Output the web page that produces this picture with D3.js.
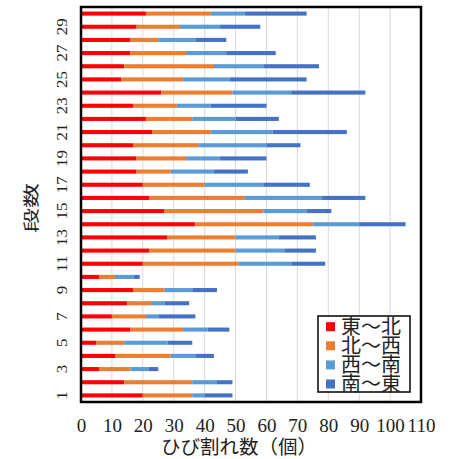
<!DOCTYPE html>
<html><head><meta charset="utf-8">
<script src="https://cdn.jsdelivr.net/npm/d3@7"></script>
<style>
html,body{margin:0;padding:0;background:#fff;}
svg{display:block;}
</style>
</head><body>
<svg id="chart" width="454" height="459"></svg>
<script>
// 段数 1..30
const categories = d3.range(1, 31).map(String);
const seriesNames = ["東～北", "北～西", "西～南", "南～東"];
const colors = ["#FF0000", "#ED7D31", "#5B9BD5", "#4472C4"];
const eastNorth  = [20,14,6,11,5,16,10,15,17,6,20,22,28,37,27,22,20,18,18,17,23,21,17,26,13,14,16,16,18,21];
const northWest  = [16,22,10,18,9,17,11,8,10,5,31,28,22,38,32,31,20,11,16,21,19,15,14,23,20,29,18,9,14,21];
const westSouth  = [4,8,6,8,14,8,4,4,9,6,17,16,14,15,14,25,19,14,11,22,20,14,11,19,15,16,13,12,13,11];
const southEast  = [9,5,3,6,8,7,12,8,8,2,11,10,12,15,8,14,15,11,15,11,24,14,18,24,25,18,16,10,13,20];
const xTicks = [0,10,20,30,40,50,60,70,80,90,100,110];
const yTickLabels = categories.filter((d,i) => i % 2 === 0);
const xTitle = "ひび割れ数（個）";
const yTitle = "段数";

const table = categories.map((c, i) => ({
  cat: c,
  [seriesNames[0]]: eastNorth[i],
  [seriesNames[1]]: northWest[i],
  [seriesNames[2]]: westSouth[i],
  [seriesNames[3]]: southEast[i]
}));

const svg = d3.select("#chart");
const L = 81, R = 421, T = 7, B = 402;
const x = d3.scaleLinear().domain([0, 110]).range([L, R]);
const y = d3.scaleBand().domain(categories.slice().reverse()).range([T, B]).paddingInner(0.69).paddingOuter(0.345);

const numFont = "'Liberation Serif','DejaVu Serif',serif";
const cjkFont = "'Noto Sans CJK JP','Noto Sans CJK SC',sans-serif";

// gridlines
svg.append("g").selectAll("line").data(xTicks.filter(t => t > 0 && t < 110)).join("line")
  .attr("x1", d => x(d)).attr("x2", d => x(d))
  .attr("y1", T).attr("y2", B)
  .attr("stroke", "#d9d9d9").attr("stroke-width", 1);

// stacked bars
const stack = d3.stack().keys(seriesNames)(table);
svg.append("g").selectAll("g").data(stack).join("g")
  .attr("fill", (d, i) => colors[i])
  .selectAll("rect").data(d => d).join("rect")
  .attr("x", d => x(d[0]))
  .attr("width", d => x(d[1]) - x(d[0]))
  .attr("y", d => y(d.data.cat))
  .attr("height", y.bandwidth());

// plot border
svg.append("rect").attr("x", L).attr("y", T).attr("width", R - L).attr("height", B - T)
  .attr("fill", "none").attr("stroke", "#000").attr("stroke-width", 2.5);

// x axis
const xAxis = d3.axisBottom(x).tickValues(xTicks).tickSize(0).tickPadding(0);
const gx = svg.append("g").attr("transform", `translate(0,${B})`).call(xAxis);
gx.select(".domain").remove();
gx.selectAll("text").attr("font-family", numFont).attr("font-size", 19).attr("fill", "#222")
  .attr("dy", null).attr("y", 30);

// y axis (odd labels, rotated)
const yAxis = d3.axisLeft(y).tickValues(yTickLabels).tickSize(0).tickPadding(0);
const gy = svg.append("g").attr("transform", `translate(${L},0)`).call(yAxis);
gy.select(".domain").remove();
gy.selectAll(".tick text")
  .attr("font-family", numFont).attr("font-size", 17).attr("fill", "#222")
  .attr("x", null).attr("dy", null)
  .attr("text-anchor", "middle")
  .attr("transform", "translate(-14,0) rotate(-90) scale(1,0.8)");

// axis titles
svg.append("text").attr("x", 239).attr("y", 454).attr("text-anchor", "middle")
  .attr("font-family", cjkFont).attr("font-size", 19.5).attr("fill", "#222").text(xTitle);
svg.append("text").attr("text-anchor", "middle")
  .attr("transform", "translate(37,208) rotate(-90) scale(1,0.65)")
  .attr("font-family", cjkFont).attr("font-size", 25).attr("fill", "#222").text(yTitle);

// legend
const lg = svg.append("g");
lg.append("rect").attr("x", 318).attr("y", 316).attr("width", 92).attr("height", 76)
  .attr("fill", "#fff").attr("stroke", "#000").attr("stroke-width", 1.5);
const items = lg.selectAll("g.item").data(seriesNames).join("g").attr("class", "item")
  .attr("transform", (d, i) => `translate(0,${326.7 + i * 19.1})`);
items.append("rect").attr("x", 326).attr("y", -4.5).attr("width", 9).attr("height", 9)
  .attr("fill", (d, i) => colors[i]);
items.append("text").attr("x", 341).attr("y", 7.4)
  .attr("font-family", cjkFont).attr("font-size", 20).attr("fill", "#222").text(d => d);
</script>
</body></html>
